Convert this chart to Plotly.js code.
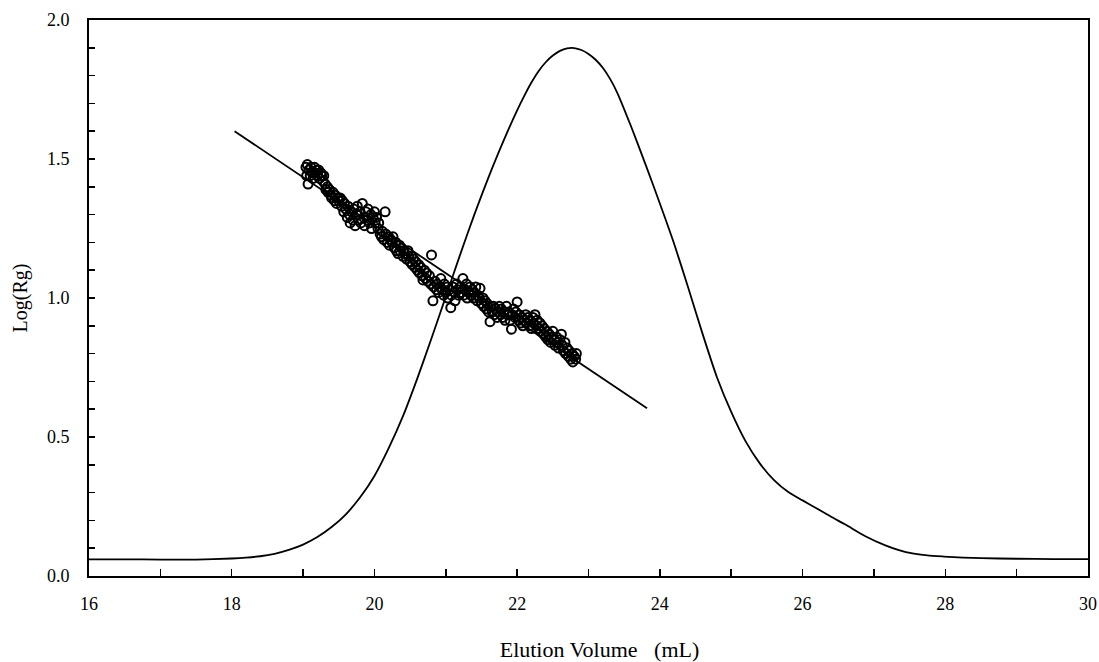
<!DOCTYPE html>
<html>
<head>
<meta charset="utf-8">
<script src="https://cdn.plot.ly/plotly-3.0.1.min.js"></script>
<style>html,body{margin:0;padding:0;background:#fff;}#chart{width:1099px;height:662px;}</style>
</head>
<body>
<div id="chart"></div>
<script>
// Elution profile (detector trace)
var traceX = [16.0, 16.5, 17.0, 17.5, 18.0, 18.2, 18.4, 18.6, 18.8, 19.0, 19.2, 19.4, 19.6, 19.8, 20.0, 20.2, 20.4, 20.6, 20.8, 21.0, 21.2, 21.4, 21.6, 21.8, 22.0, 22.1, 22.2, 22.3, 22.4, 22.5, 22.6, 22.7, 22.8, 22.9, 23.0, 23.1, 23.2, 23.3, 23.4, 23.6, 23.8, 24.0, 24.2, 24.4, 24.6, 24.8, 25.0, 25.2, 25.4, 25.6, 25.8, 26.0, 26.2, 26.4, 26.6, 26.88, 27.16, 27.35, 27.54, 27.75, 27.98, 28.25, 28.5, 29.0, 29.5, 30.0];
var traceY = [0.060, 0.060, 0.059, 0.059, 0.063, 0.066, 0.071, 0.080, 0.094, 0.113, 0.140, 0.176, 0.222, 0.283, 0.360, 0.460, 0.575, 0.710, 0.855, 1.005, 1.155, 1.300, 1.435, 1.560, 1.675, 1.727, 1.775, 1.816, 1.848, 1.872, 1.889, 1.898, 1.899, 1.892, 1.878, 1.857, 1.828, 1.789, 1.740, 1.615, 1.480, 1.340, 1.195, 1.035, 0.870, 0.715, 0.590, 0.485, 0.405, 0.345, 0.302, 0.272, 0.243, 0.213, 0.185, 0.143, 0.110, 0.093, 0.081, 0.074, 0.070, 0.066, 0.064, 0.062, 0.061, 0.061];

// Log(Rg) data points
var rgX = [19.04,19.05,19.06,19.07,19.08,19.10,19.11,19.13,19.14,19.16,19.17,19.19,19.20,19.22,19.23,19.25,19.26,19.28,19.29,19.31,19.32,19.34,19.35,19.37,19.39,19.40,19.42,19.44,19.45,19.47,19.49,19.50,19.52,19.54,19.55,19.57,19.58,19.60,19.62,19.63,19.65,19.66,19.68,19.70,19.71,19.73,19.75,19.76,19.78,19.80,19.81,19.83,19.85,19.86,19.88,19.90,19.91,19.93,19.95,19.96,19.98,20.00,20.01,20.03,20.05,20.06,20.08,20.10,20.11,20.13,20.15,20.16,20.18,20.20,20.21,20.23,20.25,20.26,20.28,20.30,20.31,20.33,20.35,20.36,20.38,20.40,20.41,20.43,20.45,20.47,20.48,20.50,20.52,20.53,20.55,20.57,20.58,20.60,20.62,20.63,20.65,20.67,20.68,20.70,20.72,20.73,20.75,20.77,20.79,20.80,20.82,20.83,20.85,20.87,20.88,20.90,20.92,20.93,20.95,20.97,20.98,21.00,21.02,21.03,21.05,21.07,21.08,21.10,21.12,21.13,21.15,21.17,21.18,21.20,21.22,21.24,21.25,21.27,21.29,21.30,21.32,21.34,21.35,21.37,21.39,21.40,21.42,21.44,21.45,21.47,21.48,21.50,21.52,21.53,21.55,21.57,21.58,21.60,21.62,21.63,21.65,21.67,21.68,21.70,21.72,21.73,21.75,21.77,21.78,21.80,21.82,21.83,21.85,21.87,21.88,21.90,21.92,21.93,21.95,21.97,21.98,22.00,22.02,22.03,22.05,22.07,22.08,22.10,22.12,22.13,22.15,22.17,22.18,22.20,22.22,22.23,22.25,22.27,22.28,22.30,22.32,22.33,22.35,22.37,22.38,22.40,22.42,22.43,22.45,22.47,22.48,22.50,22.52,22.53,22.55,22.57,22.58,22.60,22.62,22.63,22.65,22.67,22.68,22.70,22.72,22.73,22.75,22.77,22.78,22.80,22.82,22.83];
var rgY = [1.47,1.44,1.48,1.41,1.46,1.44,1.47,1.45,1.43,1.47,1.45,1.46,1.44,1.46,1.43,1.45,1.44,1.42,1.44,1.41,1.39,1.40,1.38,1.39,1.37,1.36,1.38,1.35,1.37,1.34,1.36,1.35,1.36,1.33,1.35,1.31,1.34,1.32,1.29,1.33,1.30,1.27,1.31,1.28,1.32,1.26,1.30,1.33,1.28,1.31,1.27,1.34,1.29,1.26,1.31,1.28,1.32,1.27,1.30,1.25,1.29,1.31,1.27,1.29,1.25,1.27,1.23,1.22,1.24,1.21,1.31,1.23,1.20,1.22,1.19,1.21,1.20,1.22,1.18,1.20,1.17,1.16,1.19,1.17,1.18,1.15,1.17,1.16,1.14,1.17,1.15,1.13,1.15,1.12,1.14,1.11,1.13,1.10,1.12,1.09,1.11,1.08,1.065,1.10,1.07,1.09,1.06,1.08,1.05,1.155,0.99,1.04,1.06,1.03,1.05,1.02,1.04,1.07,1.03,1.01,1.05,1.02,1.04,1.00,1.03,0.965,1.01,1.04,1.02,0.99,1.05,1.03,1.01,1.04,1.02,1.07,1.01,1.03,1.05,1.00,1.02,1.04,1.01,1.03,1.00,1.02,1.04,0.99,1.01,1.00,1.035,0.98,1.00,0.97,0.99,0.96,0.98,0.95,0.915,0.97,0.95,0.97,0.94,0.96,0.93,0.95,0.97,0.94,0.96,0.93,0.95,0.92,0.97,0.94,0.95,0.92,0.888,0.94,0.96,0.93,0.95,0.986,0.92,0.94,0.91,0.93,0.90,0.92,0.94,0.91,0.93,0.90,0.92,0.89,0.93,0.91,0.94,0.90,0.92,0.89,0.91,0.88,0.90,0.87,0.89,0.86,0.88,0.85,0.87,0.84,0.86,0.88,0.85,0.83,0.86,0.84,0.82,0.85,0.87,0.83,0.81,0.84,0.80,0.82,0.79,0.81,0.78,0.80,0.77,0.79,0.78,0.80];

// Linear fit of Log(Rg) vs elution volume
var fitX = [18.04, 23.82];
var fitY = [1.60, 0.603];

var font = 'Liberation Serif, Times New Roman, serif';

var data = [
  {x: traceX, y: traceY, type: 'scatter', mode: 'lines', line: {color: '#000', width: 1.8, shape: 'spline', smoothing: 0.6}},
  {x: fitX, y: fitY, type: 'scatter', mode: 'lines', line: {color: '#000', width: 1.8}},
  {x: rgX, y: rgY, type: 'scatter', mode: 'markers', marker: {symbol: 'circle-open', size: 9, color: '#000', line: {color: '#000', width: 2}}}
];

var layout = {
  width: 1099, height: 662,
  margin: {l: 89, r: 11, t: 20, b: 86, pad: 0},
  paper_bgcolor: '#fff', plot_bgcolor: '#fff',
  showlegend: false,
  font: {family: font, color: '#000', size: 18},
  xaxis: {
    range: [16, 30], dtick: 2, tick0: 16,
    ticks: 'inside', ticklen: 7, tickwidth: 1.5, tickcolor: '#000',
    minor: {dtick: 1, ticks: 'inside', ticklen: 7, tickwidth: 1.5, tickcolor: '#000'},
    showline: true, linecolor: '#000', linewidth: 1.8, mirror: true,
    showgrid: false, zeroline: false,
    tickfont: {family: font, size: 18, color: '#000'},
    ticklabelstandoff: 11,
    title: {text: '<span style="color:rgba(0,0,0,0)">nn</span>Elution Volume\u00A0\u00A0\u00A0(mL)', font: {family: font, size: 22, color: '#000'}, standoff: 28}
  },
  yaxis: {
    range: [0, 2.0], dtick: 0.5, tick0: 0,
    ticks: 'inside', ticklen: 6, tickwidth: 1.5, tickcolor: '#000',
    minor: {dtick: 0.1, ticks: 'inside', ticklen: 6, tickwidth: 1.5, tickcolor: '#000'},
    showline: true, linecolor: '#000', linewidth: 1.8, mirror: true,
    showgrid: false, zeroline: false,
    tickformat: '.1f',
    tickfont: {family: font, size: 18, color: '#000'},
    ticklabelstandoff: 14,
    title: {text: 'Log(Rg)', font: {family: font, size: 20, color: '#000'}, standoff: 14}
  }
};

Plotly.newPlot('chart', data, layout, {staticPlot: true, displayModeBar: false});
</script>
</body>
</html>
